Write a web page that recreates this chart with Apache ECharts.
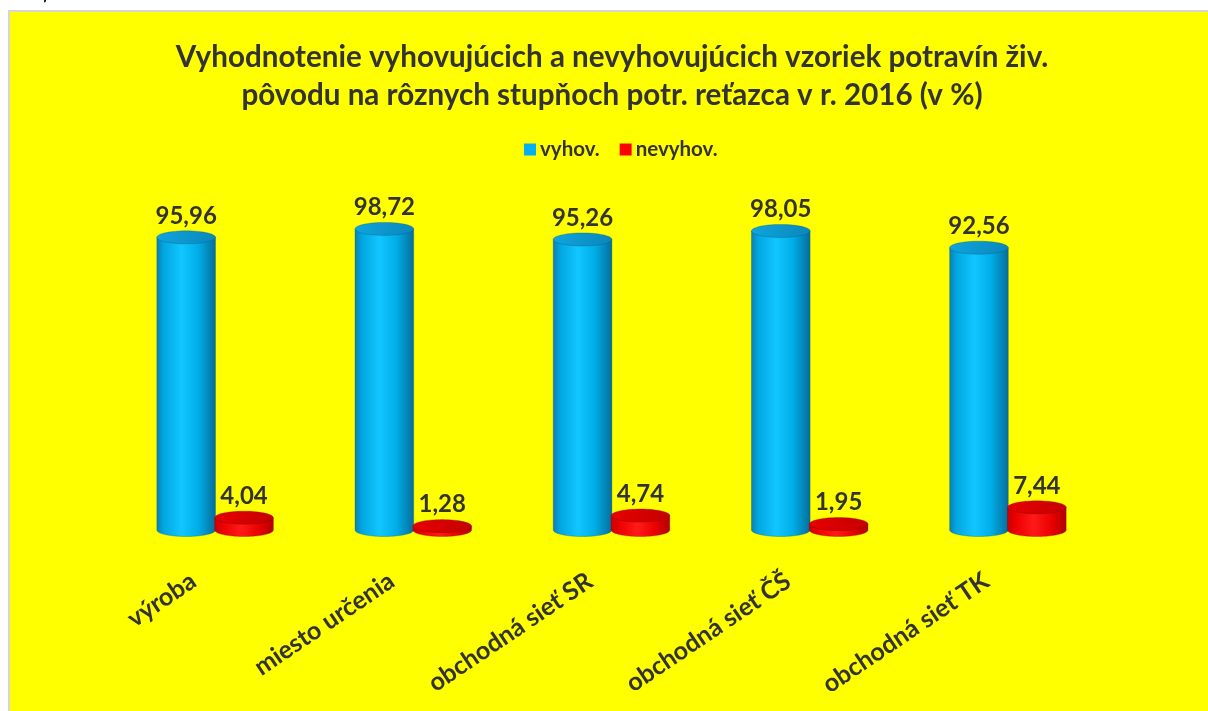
<!DOCTYPE html>
<html>
<head>
<meta charset="utf-8">
<script src="https://cdn.jsdelivr.net/npm/echarts@6/dist/echarts.min.js"></script>
<style>
  html, body { margin: 0; padding: 0; background: #ffffff; overflow: hidden; }
  #wrap { position: relative; width: 1208px; height: 711px; overflow: hidden; }
  #panel {
    position: absolute; left: 8px; top: 10px; width: 1300px; height: 800px;
    background: #ffff00; border-left: 2px solid #d6d6d6; border-top: 2px solid #d6d6d6;
    box-sizing: border-box;
  }
  #chart { position: absolute; left: 0; top: 0; width: 1208px; height: 711px; }
</style>
</head>
<body>
<div id="wrap">
  <div id="panel"></div>
  <div id="chart"></div>
</div>
<script>
// Stupne potravinového reťazca
const categories = ['výroba', 'miesto určenia', 'obchodná sieť SR', 'obchodná sieť ČŠ', 'obchodná sieť TK'];
// Podiel vyhovujúcich a nevyhovujúcich vzoriek (%)
const vyhov = [95.96, 98.72, 95.26, 98.05, 92.56];
const nevyhov = [4.04, 1.28, 4.74, 1.95, 7.44];

const FONT = 'Lato, "Open Sans", sans-serif';
const TEXT = '#333333';

function ellipsePoints(cx, cy, rx, ry, from, to, n) {
  const pts = [];
  for (let i = 0; i <= n; i++) {
    const a = from + (to - from) * i / n;
    pts.push([cx + rx * Math.cos(a), cy + ry * Math.sin(a)]);
  }
  return pts;
}

// Valec: telo s vodorovným prechodom farieb a eliptická horná podstava
function cylinder(palette, offset) {
  return function (params, api) {
    const idx = api.value(0);
    const val = api.value(1);
    const top = api.coord([idx, val]);
    const base = api.coord([idx, 0]);
    const band = api.size([1, 0])[0];
    const cx = top[0] + band * offset;
    const rx = band * 0.148;
    const ry = 6.5;
    const yt = top[1];
    const yb = base[1];
    const body = [[cx - rx, yt]]
      .concat(ellipsePoints(cx, yb, rx, ry, Math.PI, 0, 40))
      .concat([[cx + rx, yt]]);
    const cap = ellipsePoints(cx, yt, rx, ry, 0, Math.PI * 2, 60);
    const label = val.toFixed(2).replace('.', ',');
    return {
      type: 'group',
      children: [
        {
          type: 'polygon',
          shape: { points: body },
          style: {
            fill: {
              type: 'linear', x: 0, y: 0, x2: 1, y2: 0,
              colorStops: palette.body
            },
            stroke: palette.edge,
            lineWidth: 0.6
          }
        },
        {
          type: 'polygon',
          shape: { points: cap },
          style: {
            fill: {
              type: 'linear', x: 0, y: 0, x2: 1, y2: 1,
              colorStops: palette.cap
            },
            stroke: palette.edge,
            lineWidth: 0.6
          }
        },
        {
          type: 'text',
          style: {
            text: label,
            x: cx,
            y: yt - ry - 3,
            align: 'center',
            verticalAlign: 'bottom',
            fill: TEXT,
            font: 'bold 24px ' + FONT
          }
        }
      ]
    };
  };
}

const bluePalette = {
  body: [
    { offset: 0, color: '#0a7fb0' },
    { offset: 0.12, color: '#02a6e0' },
    { offset: 0.42, color: '#12c6ff' },
    { offset: 0.7, color: '#00aee8' },
    { offset: 1, color: '#066d9a' }
  ],
  cap: [
    { offset: 0, color: '#0fa6de' },
    { offset: 1, color: '#0a86ba' }
  ],
  edge: 'rgba(0,80,120,0.5)'
};
const redPalette = {
  body: [
    { offset: 0, color: '#c80000' },
    { offset: 0.15, color: '#ee0000' },
    { offset: 0.45, color: '#ff1a1a' },
    { offset: 0.75, color: '#ea0000' },
    { offset: 1, color: '#b00000' }
  ],
  cap: [
    { offset: 0, color: '#e80000' },
    { offset: 1, color: '#c40000' }
  ],
  edge: 'rgba(120,0,0,0.5)'
};

const chart = echarts.init(document.getElementById('chart'), null, { renderer: 'canvas' });

chart.setOption({
  backgroundColor: 'transparent',
  animation: false,
  graphic: [
    {
      type: 'text',
      style: {
        text: 'Graf 38', x: 10, y: 4, verticalAlign: 'bottom',
        font: 'italic 22px ' + FONT, fill: '#000000'
      }
    }
  ],
  title: {
    text: 'Vyhodnotenie vyhovujúcich a nevyhovujúcich vzoriek potravín živ.\npôvodu na rôznych stupňoch potr. reťazca v r. 2016 (v %)',
    left: 607,
    top: 33,
    textAlign: 'center',
    textStyle: {
      fontFamily: FONT,
      fontWeight: 'bold',
      fontSize: 29.6,
      lineHeight: 38,
      color: TEXT
    }
  },
  legend: {
    top: 134,
    left: 519,
    itemWidth: 12,
    itemHeight: 12,
    itemGap: 20,
    icon: 'rect',
    textStyle: { fontFamily: FONT, fontWeight: 'bold', fontSize: 20.5, color: TEXT, padding: [0, 0, 0, -1] },
    data: ['vyhov.', 'nevyhov.']
  },
  grid: { left: 116, right: 101, top: 225, bottom: 181 },
  xAxis: {
    type: 'category',
    data: categories,
    axisLine: { show: false },
    axisTick: { show: false },
    axisLabel: {
      rotate: 34,
      interval: 0,
      margin: 34,
      padding: [0, 26, 0, 0],
      fontFamily: FONT,
      fontWeight: 'bold',
      fontSize: 25,
      color: TEXT
    }
  },
  yAxis: { type: 'value', min: 0, max: 100, show: false },
  series: [
    {
      name: 'vyhov.',
      type: 'custom',
      renderItem: cylinder(bluePalette, -0.146),
      itemStyle: { color: '#00b0f0' },
      encode: { x: 0, y: 1 },
      data: vyhov.map((v, i) => [i, v])
    },
    {
      name: 'nevyhov.',
      type: 'custom',
      renderItem: cylinder(redPalette, 0.146),
      itemStyle: { color: '#ff0000' },
      encode: { x: 0, y: 1 },
      data: nevyhov.map((v, i) => [i, v])
    }
  ]
});
</script>
</body>
</html>
